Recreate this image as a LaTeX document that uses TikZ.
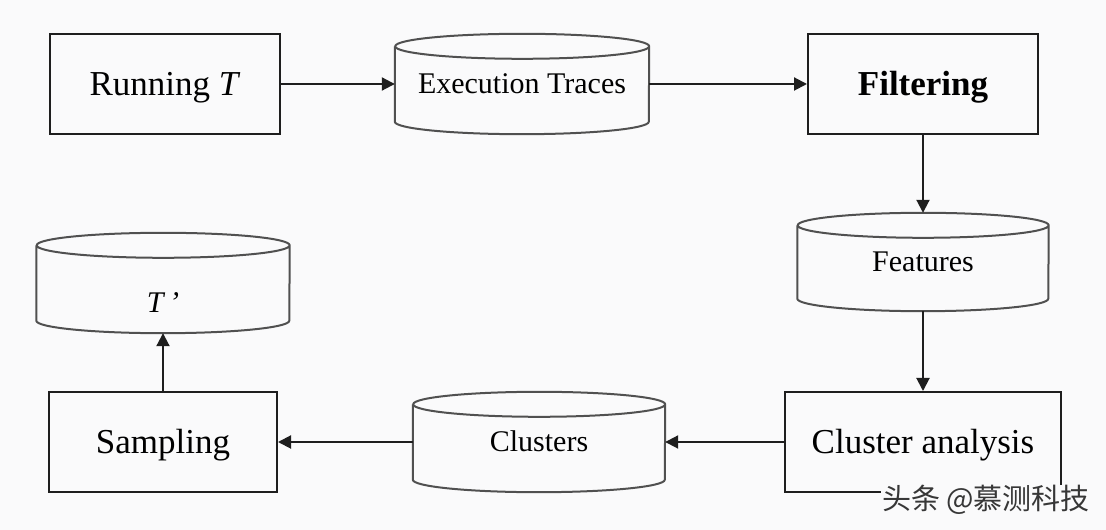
\documentclass[tikz,border=0pt]{standalone}
\usepackage{fontspec}
\setmainfont{Liberation Serif}
\newfontfamily\cjkfont{Noto Sans CJK SC}
\usetikzlibrary{arrows.meta,calc}
\definecolor{bgcol}{RGB}{250,250,251}
\definecolor{boxline}{RGB}{30,30,30}
\definecolor{cylline}{RGB}{80,80,80}
\definecolor{wmcol}{RGB}{55,55,55}
\tikzset{
  procbox/.style={draw=boxline, line width=2pt, inner sep=0pt,
    font=\fontsize{35}{40}\selectfont, text height=23pt, text depth=0pt},
  cylnode/.style={inner sep=0pt, font=\fontsize{30}{36}\selectfont,
    text height=20pt, text depth=0pt},
  cylstroke/.style={draw=cylline, line width=2pt, line join=round},
  arrowline/.style={draw=boxline, line width=2pt, -{Triangle[length=13pt,width=13pt]}},
  wmtext/.style={font=\cjkfont\fontsize{29}{33}\selectfont, inner xsep=1pt, inner ysep=0pt,
    fill=bgcol, text=wmcol},
}
\newcommand\drawcyl[2]{%
  \draw[cylstroke] ([yshift=-12.5pt]#1.north west) -- ([yshift=12.5pt]#1.south west)
    arc[start angle=180,end angle=360,x radius=#2,y radius=12.5pt]
    -- ([yshift=-12.5pt]#1.north east)
    arc[start angle=0,end angle=180,x radius=#2,y radius=12.5pt]
    arc[start angle=180,end angle=360,x radius=#2,y radius=12.5pt];}
\begin{document}
\begin{tikzpicture}[x=1pt,y=1pt]
  \fill[bgcol] (0,0) rectangle (1106,530);
  \useasboundingbox (0,0) rectangle (1106,530);

  % process boxes
  \node[procbox, minimum width=230pt, minimum height=100pt] (run) at (165,446) {Running \textit{T}};
  \node[procbox, minimum width=230pt, minimum height=100pt] (filt) at (923,446) {\bfseries Filtering};
  \node[procbox, minimum width=276pt, minimum height=100pt] (clan) at (923,88) {Cluster analysis};
  \node[procbox, minimum width=228pt, minimum height=100pt] (samp) at (163,88) {Sampling};

  % data stores (cylinders)
  \node[cylnode, minimum width=254pt, minimum height=100pt] (exec) at (522,446) {Execution Traces};
  \node[cylnode, minimum width=251pt, minimum height=98pt] (feat) at (923,268) {Features};
  \node[cylnode, minimum width=252pt, minimum height=100pt] (clus) at (539,88) {Clusters};
  \node[cylnode, minimum width=253pt, minimum height=100pt, text height=60pt] (tp) at (163,247) {\textit{T}\kern4pt\textit{’}};
  \drawcyl{exec}{127pt}
  \drawcyl{feat}{125.5pt}
  \drawcyl{clus}{126pt}
  \drawcyl{tp}{126.5pt}

  % connectors
  \draw[arrowline] (run) -- (exec);
  \draw[arrowline] (exec) -- (filt);
  \draw[arrowline] (filt) -- (feat);
  \draw[arrowline] (feat) -- (clan);
  \draw[arrowline] (clan) -- (clus);
  \draw[arrowline] (clus) -- (samp);
  \draw[arrowline] (samp) -- (tp);

  % watermark
  \node[wmtext] (wm) at (986,30) {头条 @慕测科技};
\end{tikzpicture}
\end{document}
